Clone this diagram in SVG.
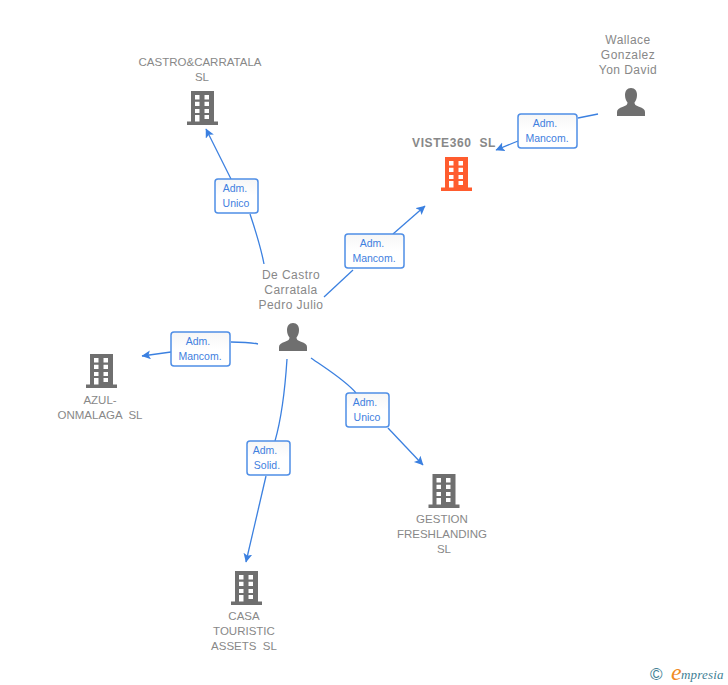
<svg xmlns="http://www.w3.org/2000/svg" width="728" height="685" viewBox="0 0 728 685">
<style>
text{font-family:"Liberation Sans",Arial,sans-serif;white-space:pre}
.n{font-size:12px;fill:#888;text-anchor:middle;letter-spacing:.45px}
.c{font-size:11.5px;letter-spacing:0}
.l{font-size:10.5px;fill:#3f80e0;text-anchor:middle}
.e{fill:none;stroke:#3b80e0;stroke-width:1.3}
.b{fill:url(#g);stroke:#4f8ee6;stroke-width:1.5}
</style>
<defs>
<linearGradient id="g" x1="0" y1="0" x2="0" y2="1"><stop offset="0" stop-color="#f6f6f6"/><stop offset=".5" stop-color="#fff"/></linearGradient>
<marker id="a" markerWidth="10" markerHeight="10" refX="8.500" refY="4.500" orient="auto" markerUnits="userSpaceOnUse"><path d="M0 0L9 4.500L0 9L2 4.500Z" fill="#3b80e0"/></marker>
<path id="bld" fill-rule="evenodd" d="M4 0H27V30.500H31V34H0V30.500H4ZM8 4V8.500H12.500V4ZM17.500 4V8.500H22V4ZM8 10.700V15H12.500V10.700ZM17.500 10.700V15H22V10.700ZM8 18V22H12.500V18ZM17.500 18V22H22V18ZM8 24V30.500H12.500V24ZM17.500 24V28H22V24Z"/>
<path id="per" d="M14 0C10 0 8 3 8 7C8 10 9 12.500 10.500 14.500C10.500 16.500 9.500 17.500 6 18.800C2 20.200 0 21.500 0 24V28H28V24C28 21.500 26 20.200 22 18.800C18.500 17.500 17.500 16.500 17.500 14.500C19 12.500 20 10 20 7C20 3 18 0 14 0Z" fill="#6f6f6f"/>
</defs>
<g id="connectors">
<path class="e" d="M598 114L578 118"/><path class="e" d="M518 141L496 150" marker-end="url(#a)"/>
<path class="e" d="M231 179L206 129" marker-end="url(#a)"/><path class="e" d="M250 214C256 232 261 248 264 264"/>
<path class="e" d="M324 297L353 270"/><path class="e" d="M393 234L425 206" marker-end="url(#a)"/>
<path class="e" d="M258 344C249 342 240 342 231 342"/><path class="e" d="M171 352L142 356" marker-end="url(#a)"/>
<path class="e" d="M287 359C285 390 281 420 275 441"/><path class="e" d="M266 476L246 562" marker-end="url(#a)"/>
<path class="e" d="M311 358C325 368 345 380 356 393"/><path class="e" d="M388 428L423 465" marker-end="url(#a)"/>
</g>
<g id="link-1"><rect class="b" x="518" y="114" width="59" height="34" rx="3"/><text class="l" x="545" y="127">Adm.</text><text class="l" x="547" y="142">Mancom.</text></g>
<g id="link-2"><rect class="b" x="215" y="179" width="43" height="34" rx="3"/><text class="l" x="235" y="192">Adm.</text><text class="l" x="236" y="207">Unico</text></g>
<g id="link-3"><rect class="b" x="345" y="234" width="59" height="34" rx="3"/><text class="l" x="372" y="247">Adm.</text><text class="l" x="374" y="262">Mancom.</text></g>
<g id="link-4"><rect class="b" x="171" y="332" width="59" height="34" rx="3"/><text class="l" x="198" y="345">Adm.</text><text class="l" x="200" y="360">Mancom.</text></g>
<g id="link-5"><rect class="b" x="346" y="393" width="43" height="34" rx="3"/><text class="l" x="365" y="406">Adm.</text><text class="l" x="367" y="421">Unico</text></g>
<g id="link-6"><rect class="b" x="247" y="441" width="43" height="34" rx="3"/><text class="l" x="265" y="454">Adm.</text><text class="l" x="267" y="469">Solid.</text></g>
<g id="viste360"><text class="n" x="454" y="147" style="font-weight:bold;letter-spacing:.6px">VISTE360  SL</text><use href="#bld" x="441" y="157" fill="#ff5c2e"/></g>
<g id="wallace"><text class="n" x="628" y="44">Wallace</text><text class="n" x="628" y="59">Gonzalez</text><text class="n" x="628" y="74">Yon David</text><use href="#per" x="617" y="88"/></g>
<g id="castro"><text class="n c" x="200" y="66">CASTRO&amp;CARRATALA</text><text class="n c" x="202" y="81">SL</text><use href="#bld" x="187" y="91" fill="#6f6f6f"/></g>
<g id="pedro"><text class="n" x="291" y="279">De Castro</text><text class="n" x="291" y="294">Carratala</text><text class="n" x="291" y="309">Pedro Julio</text><use href="#per" x="279" y="323"/></g>
<g id="azul"><use href="#bld" x="86" y="354" fill="#6f6f6f"/><text class="n c" x="100" y="404">AZUL-</text><text class="n c" x="100" y="419">ONMALAGA  SL</text></g>
<g id="gestion"><use href="#bld" x="428.500" y="474" fill="#6f6f6f"/><text class="n c" x="442" y="523">GESTION</text><text class="n c" x="442" y="538">FRESHLANDING</text><text class="n c" x="444" y="553">SL</text></g>
<g id="casa"><use href="#bld" x="231" y="571" fill="#6f6f6f"/><text class="n c" x="244" y="620">CASA</text><text class="n c" x="244" y="635">TOURISTIC</text><text class="n c" x="244" y="650">ASSETS  SL</text></g>
<g id="logo"><text x="650" y="680" style="font-size:17px;fill:#3f7f95">©</text><text x="671" y="680" style="font-family:'Liberation Serif',serif;font-style:italic;font-size:24px;fill:#f08a24">e</text><text x="681" y="679" style="font-family:'Liberation Serif',serif;font-style:italic;font-size:13px;fill:#3f7f95;letter-spacing:.2px">mpresia</text></g>
</svg>
